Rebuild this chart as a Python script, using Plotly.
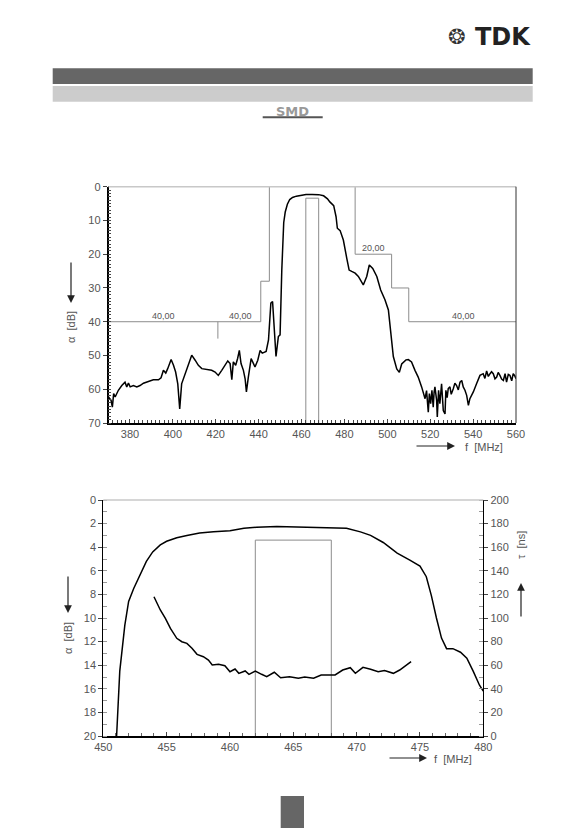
import plotly.graph_objects as go

# attenuation, wide span (top chart)
wide_f = [370, 371.2, 371.8, 372.4, 373.1, 374.6, 376.2, 377.7, 378.5, 379.3, 380.1, 381.6, 383.2, 384.7,
          386.3, 388.6, 390.9, 393.3, 394.5, 395.6, 396.7, 397.6, 399.2, 400.3, 401.3, 402.3, 403.2, 404.1,
          405.7, 407.2, 408.8, 410.4, 411.9, 413.5, 415.8, 418.1, 419.7, 421.2, 422.8, 424.3, 425.6, 426.7,
          427.5, 428.2, 429.3, 430.2, 431.0, 431.8, 432.9, 433.7, 434.3, 435.2, 436.5, 437.6, 438.3, 439.6,
          440.7, 441.7, 442.7, 443.5, 444.6, 445.3, 445.7, 446.5, 447.2, 448.1, 449.2, 450.0, 450.8, 451.3,
          451.7, 452.4, 453.4, 454.5, 455.8, 457.6, 460.0, 462.1, 465.0, 468.0, 470.3, 472.1, 473.2, 475.0,
          476.1, 476.7, 478.0, 479.5, 481.1, 482.2, 483.4, 485.0, 486.5, 488.8, 490.4, 491.6, 493.2, 495.1,
          496.9, 498.9, 500.5, 501.6, 502.8, 504.4, 505.6, 506.7, 508.7, 509.8, 511.3, 512.9, 514.4, 516.0,
          516.8, 517.6, 518.3, 518.7, 519.1, 519.6, 520.2, 520.8, 521.4, 521.8, 522.2, 523.0, 523.3, 523.9,
          524.5, 525.3, 525.7, 526.1, 526.9, 527.3, 527.9, 528.4, 529.2, 529.8, 530.8, 531.5, 532.3, 533.1,
          533.9, 534.7, 535.4, 536.2, 537.0, 537.8, 538.5, 540.1, 541.6, 542.4, 543.2, 544.7, 545.5, 546.3,
          547.1, 547.9, 548.6, 549.4, 550.2, 551.0, 551.7, 552.5, 553.3, 554.1, 554.9, 555.6, 556.4, 557.2,
          558.0, 558.7, 559.4, 560.0]
wide_att = [62.3, 63.3, 65.3, 61.3, 62.3, 60.3, 58.9, 57.9, 59.3, 58.2, 59.3, 58.9, 59.3, 58.9,
            58.2, 57.6, 57.2, 57.2, 56.6, 54.4, 55.2, 53.9, 51.2, 52.9, 54.9, 58.4, 65.8, 58.4,
            55.4, 52.9, 49.9, 51.4, 52.9, 53.9, 54.2, 54.4, 54.9, 55.9, 54.4, 52.9, 51.6, 52.4,
            57.2, 51.9, 52.9, 50.9, 48.5, 52.4, 54.4, 56.9, 60.8, 56.4, 50.9, 52.4, 53.4, 51.4,
            48.5, 49.3, 49.0, 48.8, 45.4, 40.0, 34.5, 34.0, 41.4, 50.3, 44.4, 43.9, 24.7, 14.5,
            10.6, 7.5, 5.2, 3.8, 3.2, 2.8, 2.6, 2.3, 2.3, 2.35, 2.7, 3.6, 4.5, 5.6,
            8.9, 12.3, 13.0, 15.8, 21.2, 24.7, 25.1, 25.6, 26.6, 29.1, 26.6, 23.2, 24.2, 26.6,
            30.6, 33.5, 36.5, 42.4, 50.3, 54.0, 55.0, 52.5, 51.3, 51.2, 51.9, 54.4, 56.4, 59.3,
            61.5, 62.8, 60.4, 64.8, 66.8, 61.3, 64.3, 60.3, 65.3, 61.0, 59.3, 63.3, 68.2, 60.3,
            64.3, 58.4, 63.0, 66.3, 67.3, 60.3, 62.5, 59.8, 59.3, 61.5, 59.8, 58.2, 58.9, 60.2,
            57.9, 57.4, 59.3, 60.3, 61.8, 64.8, 62.8, 60.8, 58.4, 57.0, 55.9, 55.4, 56.8, 54.6,
            56.2, 55.4, 54.8, 55.4, 56.9, 56.4, 55.0, 55.9, 57.0, 57.4, 55.4, 57.9, 55.6, 55.9,
            57.5, 55.4, 56.0, 56.9]

# tolerance scheme
tol_lo_f = [370, 441, 441, 445, 445]
tol_lo_att = [40, 40, 28, 28, 0]
tol_hi_f = [485, 485, 502, 502, 510, 510, 560]
tol_hi_att = [0, 20, 20, 30, 30, 40, 40]
tol_mark_f = [421, 421]
tol_mark_att = [40, 45]
pass_f = [462, 462, 468, 468]
pass_att = [70, 3.4, 3.4, 70]
tol_labels = ["40,00", "40,00", "20,00", "40,00"]
tol_label_f = [395.5, 431.5, 493.5, 535.5]
tol_label_att = [40, 40, 20, 40]

# passband detail (bottom chart)
zoom_f = [451.05, 451.3, 451.7, 452.0, 452.4, 452.9, 453.4, 453.9, 454.5, 455.0, 455.8, 456.6, 457.6,
          458.7, 460.0, 461.1, 462.1, 463.7, 465.0, 466.6, 467.9, 469.2, 470.3, 471.1, 472.1, 473.2,
          474.2, 475.0, 475.5, 475.9, 476.3, 476.7, 477.1, 477.6, 478.2, 478.7, 479.2, 479.7, 480.0]
zoom_att = [20.0, 14.5, 10.6, 8.6, 7.5, 6.4, 5.2, 4.4, 3.8, 3.5, 3.2, 3.0, 2.8,
            2.7, 2.6, 2.4, 2.3, 2.25, 2.3, 2.3, 2.35, 2.4, 2.7, 3.0, 3.6, 4.5,
            5.1, 5.6, 6.5, 8.1, 10.0, 11.7, 12.6, 12.6, 12.9, 13.4, 14.5, 15.7, 16.2]
gd_f = [454.0, 454.5, 454.9, 455.3, 455.8, 456.2, 456.6, 457.0, 457.4, 457.9, 458.3, 458.6, 459.1,
        459.6, 460.0, 460.4, 460.7, 461.2, 461.5, 462.0, 462.5, 462.9, 463.5, 464.0, 464.7, 465.4,
        465.9, 466.6, 467.2, 467.6, 468.3, 468.9, 469.5, 469.9, 470.5, 471.1, 471.7, 472.2, 472.9,
        473.4, 473.9, 474.3]
gd_ns = [118, 106.8, 99.7, 91.2, 82.8, 79.9, 78.5, 74.3, 69.2, 67.2, 64.4, 60.2, 60.7,
         59.6, 54.5, 56.8, 53.1, 55.1, 52.3, 55.1, 52.3, 50.3, 54.0, 49.4, 50.3, 48.9,
         50.0, 48.9, 51.7, 51.7, 51.7, 55.9, 57.9, 53.1, 58.2, 56.5, 54.5, 55.4, 53.1,
         55.9, 59.6, 63.0]
zoom_pass_f = [462, 462, 468, 468]
zoom_pass_att = [20, 3.4, 3.4, 20]

# page body has an 8px margin, so the figure is 575x820 and sits at (8, 8)
OFF = 8
W, H = 583 - OFF, 828 - OFF


def px(x):
    return (x - OFF) / W


def py(y):
    return 1 - (y - OFF) / H


tick_font = dict(family="Liberation Sans", size=11, color="#555")
fig = go.Figure()

# top chart
for f, a in [(tol_lo_f, tol_lo_att), (tol_hi_f, tol_hi_att), (tol_mark_f, tol_mark_att), (pass_f, pass_att)]:
    fig.add_trace(go.Scatter(x=f, y=a, mode="lines", line=dict(color="#8c8c8c", width=1),
                             xaxis="x", yaxis="y"))
fig.add_trace(go.Scatter(x=wide_f, y=wide_att, mode="lines", line=dict(color="black", width=1.5),
                         xaxis="x", yaxis="y"))
for t, f, a in zip(tol_labels, tol_label_f, tol_label_att):
    fig.add_annotation(x=f, y=a, xref="x", yref="y", text=t, showarrow=False, xanchor="center",
                       yanchor="bottom", font=dict(family="Liberation Sans", size=9, color="#555"), yshift=-1)

# bottom chart
fig.add_trace(go.Scatter(x=zoom_pass_f, y=zoom_pass_att, mode="lines", line=dict(color="#8c8c8c", width=1),
                         xaxis="x2", yaxis="y2"))
fig.add_trace(go.Scatter(x=zoom_f, y=zoom_att, mode="lines", line=dict(color="black", width=1.5),
                         xaxis="x2", yaxis="y2"))
fig.add_trace(go.Scatter(x=gd_f, y=gd_ns, mode="lines", line=dict(color="black", width=1.5),
                         xaxis="x2", yaxis="y3"))

ax_common = dict(showgrid=False, zeroline=False, tickfont=tick_font, showline=True, automargin=False,
                 linecolor="black", linewidth=1.5, ticklen=4, tickcolor="#444")

fig.update_layout(
    template="none",
    width=W, height=H, margin=dict(l=0, r=0, t=0, b=0, pad=0, autoexpand=False),
    paper_bgcolor="white", plot_bgcolor="white", showlegend=False,
    xaxis=dict(ax_common, domain=[px(108.5), px(516)], range=[370, 560], tick0=380, dtick=20,
               ticks="inside", anchor="y",
               minor=dict(dtick=2, ticks="inside", ticklen=3, tickcolor="#444")),
    yaxis=dict(ax_common, domain=[py(423), py(186.7)], range=[70, 0], dtick=10, ticks="outside",
               anchor="x", minor=dict(dtick=1, ticks="inside", ticklen=3, tickcolor="#444")),
    xaxis2=dict(ax_common, domain=[px(103.3), px(483.3)], range=[450, 480], dtick=5, ticks="inside",
                anchor="y2", minor=dict(dtick=1, ticks="inside", ticklen=3, tickcolor="#666")),
    yaxis2=dict(ax_common, domain=[py(736), py(500)], range=[20, 0], dtick=2, ticks="outside",
                anchor="x2", linewidth=1, minor=dict(dtick=1, ticks="inside", ticklen=4, tickcolor="#999")),
    yaxis3=dict(ax_common, range=[0, 200], dtick=20, ticks="outside", anchor="x2", overlaying="y2",
                side="right", linewidth=1, minor=dict(dtick=10, ticks="inside", ticklen=4, tickcolor="#999")),
)

# plot frames (top border light, right border dark)
for xr, yr in [("x domain", "y domain"), ("x2 domain", "y2 domain")]:
    fig.add_shape(type="line", xref=xr, yref=yr, x0=0, x1=1, y0=1, y1=1,
                  line=dict(color="#c8c8c8", width=1.5))
fig.add_shape(type="line", xref="x domain", yref="y domain", x0=1, x1=1, y0=0, y1=1,
              line=dict(color="#333", width=1))

# header bars and page box
fig.add_shape(type="rect", xref="paper", yref="paper", x0=px(52.7), x1=px(532.7), y0=py(84), y1=py(68.3),
              fillcolor="#666666", line=dict(width=0))
fig.add_shape(type="rect", xref="paper", yref="paper", x0=px(52.7), x1=px(532.7), y0=py(101.7), y1=py(86),
              fillcolor="#cccccc", line=dict(width=0))
fig.add_shape(type="rect", xref="paper", yref="paper", x0=px(280.7), x1=px(304), y0=0, y1=py(796),
              fillcolor="#666666", line=dict(width=0))
fig.add_annotation(x=px(533), y=py(36.5), xref="paper", yref="paper", text="<b>TDK</b>", showarrow=False,
                   xanchor="right", yanchor="middle", font=dict(family="DejaVu Sans", size=24, color="#222"))
fig.add_annotation(x=px(456.5), y=py(36.5), xref="paper", yref="paper", text="❂", showarrow=False,
                   xanchor="center", yanchor="middle", font=dict(family="DejaVu Sans", size=21, color="#333"))

# SMD badge
fig.add_shape(type="rect", xref="paper", yref="paper", x0=px(262.7), x1=px(322.7), y0=py(118.3), y1=py(116.3),
              fillcolor="#555555", line=dict(width=0))
fig.add_annotation(x=px(292.7), y=py(111.5), xref="paper", yref="paper", text="<b>SMD</b>",
                   showarrow=False, xanchor="center", yanchor="middle",
                   font=dict(family="DejaVu Sans", size=13, color="#999"))

# axis titles with arrows
lab_font = dict(family="Liberation Sans", size=11, color="#555")


def arrow(x_head, y_head, dx, dy):
    fig.add_annotation(x=px(x_head), y=py(y_head), xref="paper", yref="paper", text="", showarrow=True,
                       ax=dx, ay=dy, arrowhead=2, arrowsize=1.3, arrowwidth=1.2, arrowcolor="#222")


def label(x, y, text, angle=0):
    fig.add_annotation(x=px(x), y=py(y), xref="paper", yref="paper", text=text, showarrow=False,
                       xanchor="center", yanchor="middle", textangle=angle, font=lab_font)


arrow(71, 303, 0, -42)
label(71, 327, "α  [dB]", -90)
arrow(455, 446, -40, 0)
label(484, 446.5, "f  [MHz]")

arrow(68, 613, 0, -38)
label(68, 638, "α  [dB]", -90)
arrow(521, 583, 0, 35)
label(521, 545, "τ  [ns]", -90)
arrow(427, 758, -39, 0)
label(453, 759, "f  [MHz]")

fig.write_html("out.html")
